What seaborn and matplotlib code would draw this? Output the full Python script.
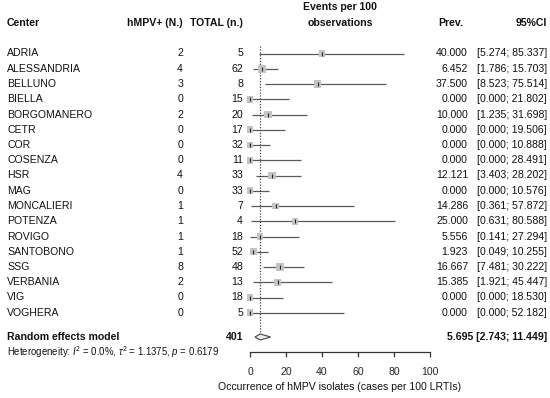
import pandas as pd
import matplotlib
matplotlib.use('Agg')
import matplotlib.pyplot as plt
import matplotlib.transforms as mtrans
import seaborn as sns

# data
centers = ['ADRIA', 'ALESSANDRIA', 'BELLUNO', 'BIELLA', 'BORGOMANERO', 'CETR',
           'COR', 'COSENZA', 'HSR', 'MAG', 'MONCALIERI', 'POTENZA', 'ROVIGO',
           'SANTOBONO', 'SSG', 'VERBANIA', 'VIG', 'VOGHERA']
events = [2, 4, 3, 0, 2, 0, 0, 0, 4, 0, 1, 1, 1, 1, 8, 2, 0, 0]
totals = [5, 62, 8, 15, 20, 17, 32, 11, 33, 33, 7, 4, 18, 52, 48, 13, 18, 5]
prev = [40.000, 6.452, 37.500, 0.000, 10.000, 0.000, 0.000, 0.000, 12.121,
        0.000, 14.286, 25.000, 5.556, 1.923, 16.667, 15.385, 0.000, 0.000]
lower = [5.274, 1.786, 8.523, 0.000, 1.235, 0.000, 0.000, 0.000, 3.403,
         0.000, 0.361, 0.631, 0.141, 0.049, 7.481, 1.921, 0.000, 0.000]
upper = [85.337, 15.703, 75.514, 21.802, 31.698, 19.506, 10.888, 28.491, 28.202,
         10.576, 57.872, 80.588, 27.294, 10.255, 30.222, 45.447, 18.530, 52.182]
weights = [5.6, 6.2, 5.8, 5.4, 5.9, 5.4, 5.4, 5.4, 6.0, 5.4, 5.6, 5.5, 5.6,
           5.5, 6.1, 5.8, 5.4, 5.4]
pooled_total = 401
pooled = [5.695, 2.743, 11.449]
het_text = r'Heterogeneity: $I^2$ = 0.0%, $\tau^2$ = 1.1375, $p$ = 0.6179'
xticks = [0, 20, 40, 60, 80, 100]
xlabel = 'Occurrence of hMPV isolates (cases per 100 LRTIs)'

sns.set_style('white')
plt.rcParams['font.family'] = ['Liberation Sans', 'DejaVu Sans']
plt.rcParams['mathtext.fontset'] = 'custom'
plt.rcParams['mathtext.rm'] = 'Liberation Sans'
plt.rcParams['mathtext.it'] = 'Liberation Sans:italic'

W, H = 550, 398
FS = 7.6
row0, step = 53.5, 15.25

df = pd.DataFrame({'center': centers, 'events': events, 'total': totals,
                   'prev': prev, 'lower': lower, 'upper': upper, 'w': weights})
df['y'] = [row0 + i * step for i in range(len(df))]
y_sum = 337
y_het = 352

fig = plt.figure(figsize=(W / 100, H / 100), dpi=100)
ax = fig.add_axes([250 / W, (H - 352) / H, 180 / W, 352 / H])
ax.set_xlim(0, 100)
ax.set_ylim(352, 0)

# CI lines, squares, point ticks
ax.hlines(df['y'], df['lower'], df['upper'], color='#5a5a5a', lw=0.9, zorder=2)
sns.scatterplot(data=df, x='prev', y='y', size='w', sizes=(22, 34), marker='s',
                color='#c4c4c4', edgecolor='none', legend=False, ax=ax, zorder=3,
                clip_on=False)
sns.scatterplot(data=df, x='prev', y='y', marker='|', s=10, color='#222222',
                linewidth=0.8, legend=False, ax=ax, zorder=4, clip_on=False)

# pooled diamond and dotted reference line
est, lo, hi = pooled
ax.fill([lo, est, hi, est], [y_sum, y_sum - 3, y_sum, y_sum + 3],
        facecolor='#ececec', edgecolor='#444444', lw=0.8, zorder=3)
ax.vlines(est, 46, y_sum - 3, color='#444444', lw=0.9, linestyles=(0, (1, 1.3)))

# axis
for s in ['left', 'right', 'top']:
    ax.spines[s].set_visible(False)
ax.spines['bottom'].set_bounds(0, 100)
ax.spines['bottom'].set_color('#333333')
ax.spines['bottom'].set_linewidth(0.9)
ax.set_xticks(xticks)
ax.set_yticks([])
ax.tick_params(axis='x', direction='out', length=3.6, width=0.9, color='#333333',
               labelsize=FS, pad=7.5, bottom=True)
ax.set_xlabel('')
ax.set_ylabel('')

tr = mtrans.blended_transform_factory(fig.transFigure, ax.transData)


def put(px, y, s, ha='left', bold=False, size=FS):
    ax.text(px / W, y, s, transform=tr, ha=ha, va='center', fontsize=size,
            fontweight='bold' if bold else 'normal', color='#111111', clip_on=False)


# header
put(7, 23, 'Center', bold=True)
put(183, 23, 'hMPV+ (N.)', ha='right', bold=True)
put(243, 23, 'TOTAL (n.)', ha='right', bold=True)
put(340, 7, 'Events per 100', ha='center', bold=True)
put(340, 23, 'observations', ha='center', bold=True)
put(463, 23, 'Prev.', ha='right', bold=True)
put(547, 23, '95%CI', ha='right', bold=True)

for _, r in df.iterrows():
    put(7, r['y'], r['center'])
    put(183, r['y'], str(r['events']), ha='right')
    put(243, r['y'], str(r['total']), ha='right')
    put(468, r['y'], f"{r['prev']:.3f}", ha='right')
    put(547, r['y'], f"[{r['lower']:.3f}; {r['upper']:.3f}]", ha='right')

put(7, y_sum, 'Random effects model', bold=True)
put(243, y_sum, str(pooled_total), ha='right', bold=True)
put(547, y_sum, f"{est:.3f} [{lo:.3f}; {hi:.3f}]", ha='right', bold=True)
put(7, y_het, het_text, size=6.9)
put(340, 387, xlabel, ha='center')

fig.savefig('out.png', dpi=100)
